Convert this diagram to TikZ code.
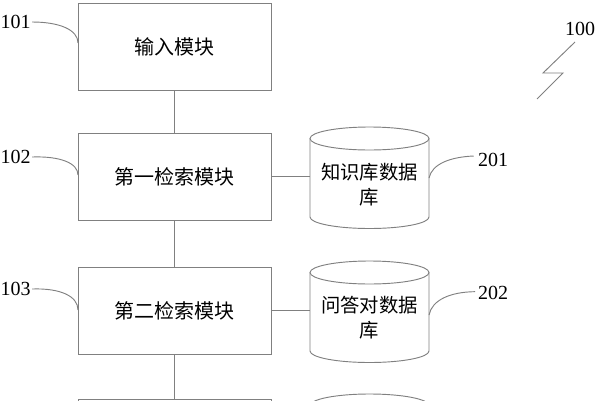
\documentclass[tikz,border=0pt]{standalone}
\usepackage{fontspec}
\setmainfont{Liberation Serif}
\newfontfamily\cjk{Noto Sans CJK SC}
\definecolor{linegray}{RGB}{128,128,128}
\tikzset{
  ln/.style={draw=linegray, line width=0.7pt},
  modbox/.style={ln, minimum width=144.75pt, minimum height=65.25pt, inner sep=0pt, font=\cjk\fontsize{15}{18}\selectfont},
  dbtext/.style={align=center, inner sep=0pt, font=\cjk\fontsize{14.5}{18.75}\selectfont},
  dbbody/.style={minimum width=89.25pt, minimum height=78.5*0.75pt, inner sep=0pt},
  num/.style={font=\fontsize{15}{18}\selectfont, inner sep=0pt},
}
\begin{document}
\begin{tikzpicture}[x=0.75pt,y=-0.75pt]
\useasboundingbox (0,0) rectangle (599,400);
\clip (0,0) rectangle (599,400);

% modules
\node[modbox] (b1) at (174.5,46.5) {输入模块};
\node[modbox] (b2) at (174.5,176.5) {第一检索模块};
\node[modbox] (b3) at (174.5,310.5) {第二检索模块};
\node[modbox] (b4) at (174.5,442.5) {};

% database cylinders (bodies as named nodes)
\node[dbbody] (d1) at (369.5,177.75) {};
\node[dbbody] (d2) at (369.5,311.75) {};
\node[dbbody] (d3) at (369.5,444.75) {};

\draw[ln] (369.5,138.5) ellipse [x radius=59.5, y radius=11.5];
\draw[ln] (310,138.5) -- (310,217) arc[start angle=180, end angle=0, x radius=59.5, y radius=11.5] -- (429,138.5);
\draw[ln] (369.5,272.5) ellipse [x radius=59.5, y radius=11.5];
\draw[ln] (310,272.5) -- (310,351) arc[start angle=180, end angle=0, x radius=59.5, y radius=11.5] -- (429,272.5);
\draw[ln] (369.5,405.5) ellipse [x radius=59.5, y radius=11.5];

\node[dbtext] (t1) at (369.5,184.5) {知识库数据\\库};
\node[dbtext] (t2) at (369.5,318) {问答对数据\\库};

% connectors
\draw[ln] (b1.south) -- (b2.north);
\draw[ln] (b2.south) -- (b3.north);
\draw[ln] (b3.south) -- (b4.north);
\draw[ln] (b2.east) -- (b2.east -| d1.west);
\draw[ln] (b3.east) -- (b3.east -| d2.west);

% reference labels
\node[num] (l101) at (15.5,22) {101};
\node[num] (l102) at (15.5,157) {102};
\node[num] (l103) at (15.5,289) {103};
\node[num] (l201) at (493,160) {201};
\node[num] (l202) at (493,293) {202};
\node[num] (l100) at (580,29) {100};

\coordinate (c101) at (78,43);
\coordinate (c102) at (78,175);
\coordinate (c103) at (78,310);
\coordinate (c201) at (429,178);
\coordinate (c202) at (429,315);

\draw[ln] ([xshift=1pt]l101.east) .. controls (60,22) and (78,30) .. (c101);
\draw[ln] ([xshift=1pt]l102.east) .. controls (60,156) and (78,163) .. (c102);
\draw[ln] ([xshift=1pt]l103.east) .. controls (60,288) and (78,296) .. (c103);
\draw[ln] (c201) .. controls (432,164) and (450,157) .. ([xshift=-3pt,yshift=3pt]l201.west);
\draw[ln] (c202) .. controls (432,300) and (450,292) .. ([xshift=-2pt,yshift=1pt]l202.west);

% zigzag of 100
\coordinate (z0) at (575,42);
\coordinate (z1) at (543,73);
\coordinate (z2) at (563,73);
\coordinate (z3) at (537,99);
\draw[ln] (z0) -- (z1) -- (z2) -- (z3);
\end{tikzpicture}
\end{document}
